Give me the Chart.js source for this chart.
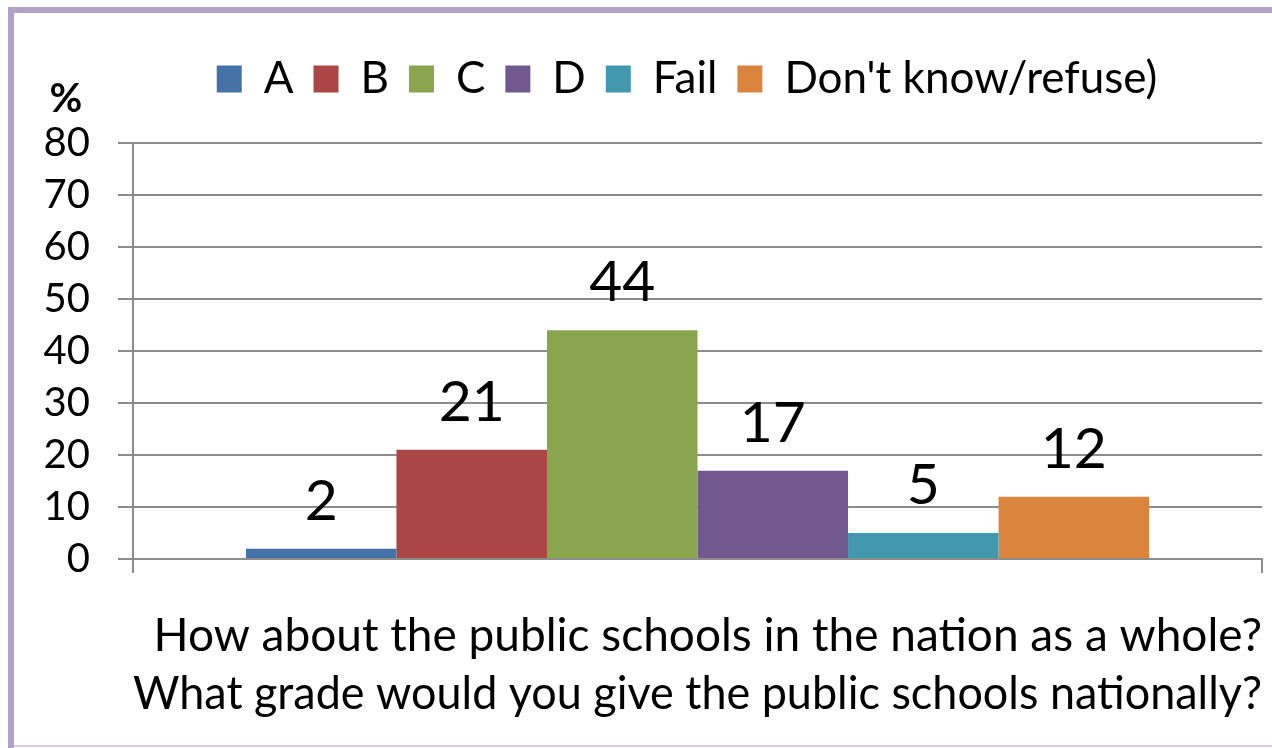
<!DOCTYPE html>
<html>
<head>
<meta charset="utf-8">
<script src="https://cdn.jsdelivr.net/npm/chart.js@4"></script>
<style>
  html, body { margin: 0; padding: 0; background: #fff; }
  #wrap { width: 1272px; height: 748px; position: relative; }
</style>
</head>
<body>
<div id="wrap"><canvas id="grades"></canvas></div>
<script>
const categories = [""];
const seriesNames = ["A", "B", "C", "D", "Fail", "Don't know/refuse)"];
const seriesValues = [2, 21, 44, 17, 5, 12];
const seriesColors = ["#4572A7", "#AA4643", "#89A54E", "#71588F", "#4198AF", "#DB843D"];
const yTicks = [0, 10, 20, 30, 40, 50, 60, 70, 80];
const xTitle = ["How about the public schools in the nation as a whole?",
                "What grade would you give the public schools nationally?"];

const FONT = "Lato, 'Open Sans', sans-serif";
const GRID = "#8c8c8c";
const LEGEND_GAP = 32;
const LEGEND_SHIFT = 56;

// frame, legend spacing, "%" label and value labels
const extras = {
  id: "extras",
  beforeLayout(chart) {
    const lg = chart.legend;
    if (lg && !lg._gapPatched) {
      const fit = lg.fit;
      lg.fit = function () { fit.call(this); this.height += LEGEND_GAP; };
      lg._gapPatched = true;
    }
  },
  afterLayout(chart) {
    const lg = chart.legend;
    if (lg) { lg.left += LEGEND_SHIFT; lg.right += LEGEND_SHIFT; }
  },
  beforeDraw(chart) {
    const ctx = chart.ctx;
    ctx.save();
    ctx.fillStyle = "#fff";
    ctx.fillRect(0, 0, chart.width, chart.height);
    ctx.fillStyle = "#b3a2c7";
    ctx.fillRect(8, 7, chart.width - 8, 6);
    ctx.fillRect(8, 7, 6, chart.height - 7);
    ctx.fillStyle = "#d6cde3";
    ctx.fillRect(14, 745, chart.width - 14, 2);
    ctx.restore();
  },
  afterDatasetsDraw(chart) {
    const ctx = chart.ctx;
    const area = chart.chartArea;
    ctx.save();
    ctx.fillStyle = "#000";
    ctx.font = "bold 40px " + FONT;
    ctx.textAlign = "center";
    ctx.textBaseline = "middle";
    ctx.fillText("%", area.left - 67, area.top - 44);
    ctx.font = "57px " + FONT;
    ctx.textBaseline = "alphabetic";
    chart.data.datasets.forEach((ds, i) => {
      const bar = chart.getDatasetMeta(i).data[0];
      ctx.fillText(String(ds.data[0]), bar.x, bar.y - 29);
    });
    ctx.restore();
  }
};

new Chart(document.getElementById("grades"), {
  type: "bar",
  data: {
    labels: categories,
    datasets: seriesNames.map((name, i) => ({
      label: name,
      data: [seriesValues[i]],
      backgroundColor: seriesColors[i],
      borderWidth: 0
    }))
  },
  options: {
    responsive: true,
    maintainAspectRatio: false,
    animation: false,
    categoryPercentage: 0.8,
    barPercentage: 1.0,
    layout: { padding: { top: 37, left: 0, right: 10, bottom: 25 } },
    scales: {
      x: {
        grid: { drawOnChartArea: false, tickLength: 14, color: GRID, lineWidth: 2 },
        border: { color: GRID, width: 2 },
        ticks: { display: false },
        title: {
          display: true,
          text: xTitle,
          align: "end",
          color: "#000",
          font: { family: FONT, size: 46, lineHeight: 1.26 },
          padding: { top: 34, bottom: 0 }
        }
      },
      y: {
        min: 0,
        max: 80,
        afterBuildTicks: s => { s.ticks = yTicks.map(v => ({ value: v })); },
        afterFit: s => { s.width = 133; },
        grid: { color: GRID, lineWidth: 2, tickLength: 15 },
        border: { color: GRID, width: 2 },
        ticks: {
          color: "#000",
          padding: 28,
          font: { family: FONT, size: 40 }
        }
      }
    },
    plugins: {
      legend: {
        position: "top",
        labels: {
          color: "#000",
          boxWidth: 25,
          boxHeight: 27,
          padding: 20,
          font: { family: FONT, size: 44 }
        }
      },
      tooltip: { enabled: false }
    }
  },
  plugins: [extras]
});
</script>
</body>
</html>
